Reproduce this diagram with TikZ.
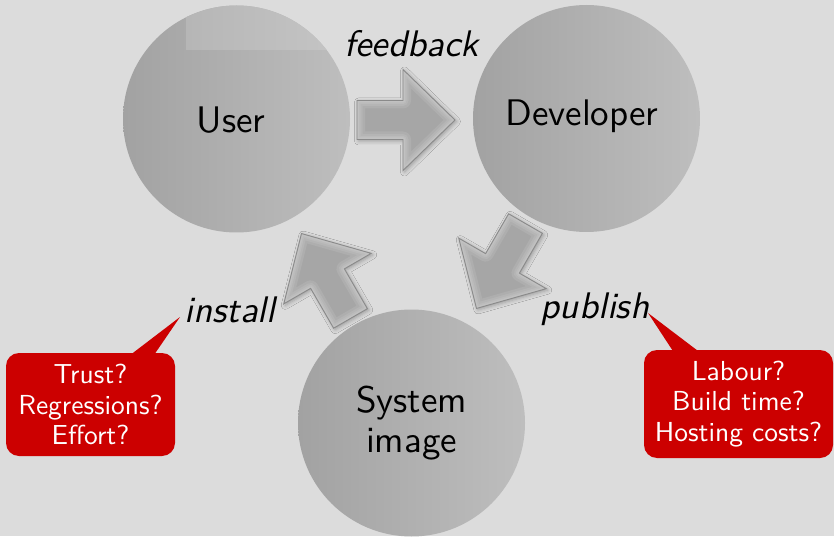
\documentclass[tikz,border=0pt]{standalone}
\usepackage{fontspec}
\newfontfamily\lmsten{lmsans10-regular.otf}[ItalicFont=lmsans10-oblique.otf]
\usetikzlibrary{shadows.blur,calc}
\definecolor{bg}{HTML}{DCDCDC}
\definecolor{cl}{HTML}{A2A2A2}
\definecolor{cr}{HTML}{BEBEBE}
\definecolor{patchl}{HTML}{B6B6B6}
\definecolor{patchr}{HTML}{C4C4C4}
\definecolor{arrfill}{HTML}{A6A6A6}
\definecolor{arredge}{HTML}{8A8A8A}
\definecolor{callred}{HTML}{CC0000}
\begin{document}
\begin{tikzpicture}[x=1pt,y=1pt,font=\lmsten,
  circ/.style={circle,minimum size=227pt,inner sep=0pt,left color=cl,right color=cr},
  bigtext/.style={font=\lmsten\fontsize{37}{40}\selectfont,align=center,inner sep=0pt},
  lbl/.style={font=\lmsten\itshape\fontsize{37}{40}\selectfont,inner sep=0pt,anchor=base},
  callout/.style={fill=callred,rounded corners=13pt,text=white,align=center,inner sep=0pt,
    font=\lmsten\fontsize{27.5}{30.7}\selectfont},
  blockarr/.pic={
    \path[fill=arrfill,blur shadow={shadow xshift=1.5pt,shadow yshift=-1.5pt,shadow blur radius=4pt,shadow opacity=30}]
      (-49,-19.5) -- (-3,-19.5) -- (-3,-50.5) -- (49,0) -- (-3,50.5) -- (-3,19.5) -- (-49,19.5) -- cycle;
    \begin{scope}
      \clip (-49,-19.5) -- (-3,-19.5) -- (-3,-50.5) -- (49,0) -- (-3,50.5) -- (-3,19.5) -- (-49,19.5) -- cycle;
      \foreach \w in {16,11,7,4}{
        \draw[white,opacity=0.09,line width=\w pt,line join=round]
          (-49,-19.5) -- (-3,-19.5) -- (-3,-50.5) -- (49,0) -- (-3,50.5) -- (-3,19.5) -- (-49,19.5) -- cycle;}
    \end{scope}
    \draw[arredge,line width=0.9pt]
      (-49,-19.5) -- (-3,-19.5) -- (-3,-50.5) -- (49,0) -- (-3,50.5) -- (-3,19.5) -- (-49,19.5) -- cycle;}
]
\fill[bg] (0,0) rectangle (834,536);
\useasboundingbox (0,0) rectangle (834,536);

% circles
\node[circ] (user) at (236.5,417) {};
\node[circ] (dev) at (586.5,417.5) {};
\node[circ] (sys) at (411.5,113) {};

% lighter patch on the user circle
\begin{scope}
  \clip (user.center) circle (113.5pt);
  \shade[left color=patchl,right color=patchr] (186,486) rectangle (333,537);
\end{scope}

\node[bigtext] (usertext) at (231,416) {User};
\node[bigtext] (devtext) at (582,419.5) {Developer};
\node[bigtext,anchor=base] (systext) at (411.5,124) {System};
\node[bigtext,anchor=base] (imgtext) at (411.5,84) {image};

% block arrows
\pic at (406,416) {blockarr};
\pic[rotate=240] at (501,270) {blockarr};
\pic[rotate=120] at (326,260) {blockarr};

% labels
\node[lbl] (feedback) at (411.5,479) {feedback};
\node[lbl] (install) at (230,214) {install};
\node[lbl] (publish) at (595,218) {publish};

% callouts
\node[callout,minimum width=169pt,minimum height=103pt] (c1) at (90.5,131.5) {Trust?\\Regressions?\\Effort?};
\coordinate (t1) at (180,219);
\fill[callred] ($(c1.north west)+(126,-1)$) -- (t1) -- ($(c1.north west)+(149,-1)$) -- cycle;

\node[callout,minimum width=189pt,minimum height=108pt] (c2) at (738.5,132) {Labour?\\Build time?\\Hosting costs?};
\coordinate (t2) at (648,223);
\fill[callred] ($(c2.north west)+(29,-1)$) -- (t2) -- ($(c2.north west)+(54,-1)$) -- cycle;
\end{tikzpicture}
\end{document}
